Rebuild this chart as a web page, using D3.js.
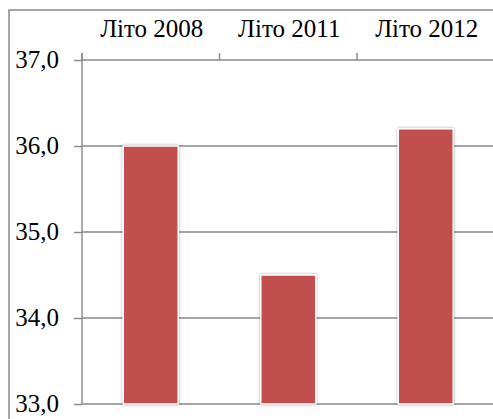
<!DOCTYPE html>
<html>
<head>
<meta charset="utf-8">
<script src="https://cdn.jsdelivr.net/npm/d3@7"></script>
<style>
  html, body { margin: 0; padding: 0; background: #fff; }
  svg { display: block; }
</style>
</head>
<body>
<svg id="chart" width="493" height="419"></svg>
<script>
// Average values per summer season
const categories = ["Літо 2008", "Літо 2011", "Літо 2012"];
const values = [36.0, 34.5, 36.2];
const yTicks = [33, 34, 35, 36, 37];
const yTickLabels = ["33,0", "34,0", "35,0", "36,0", "37,0"];

const svg = d3.select("#chart");

const plot = { left: 82, right: 494.5, top: 60, bottom: 404 };
const gridColor = "#888888";
const serif = "'Liberation Serif'";

// Soft shadow around bars
const defs = svg.append("defs");
const f = defs.append("filter").attr("id", "barShadow")
  .attr("x", "-20%").attr("y", "-10%").attr("width", "140%").attr("height", "120%");
f.append("feDropShadow").attr("dx", 0).attr("dy", 0).attr("stdDeviation", 1.6)
  .attr("flood-color", "#000").attr("flood-opacity", 0.35);

// Outer frame
svg.append("rect")
  .attr("x", 9).attr("y", 10).attr("width", 600).attr("height", 600)
  .attr("fill", "none").attr("stroke", gridColor).attr("stroke-width", 1.5);

const x = d3.scaleBand()
  .domain(categories)
  .range([plot.left, plot.right])
  .paddingInner(0.6).paddingOuter(0.3);

const xCat = d3.scaleBand()
  .domain(categories)
  .range([plot.left, plot.right])
  .padding(0);

const y = d3.scaleLinear().domain([33, 37]).range([plot.bottom, plot.top]);

// Horizontal gridlines
svg.append("g").selectAll("line").data(yTicks).join("line")
  .attr("x1", plot.left).attr("x2", plot.right)
  .attr("y1", d => y(d)).attr("y2", d => y(d))
  .attr("stroke", gridColor).attr("stroke-width", 1.4);

// Y axis (left)
const yAxis = d3.axisLeft(y)
  .tickValues(yTicks)
  .tickFormat((d, i) => yTickLabels[i])
  .tickSize(8).tickPadding(15);
const gy = svg.append("g").attr("transform", `translate(${plot.left},0)`).call(yAxis);
gy.attr("font-family", null).attr("font-size", null);
gy.select(".domain").remove();
gy.selectAll(".tick line").attr("stroke", gridColor).attr("stroke-width", 1.4);
gy.selectAll(".tick text")
  .attr("font-family", serif).attr("font-size", 25)
  .attr("dy", null).attr("y", 7.5).attr("fill", "#000");
svg.append("line")
  .attr("x1", plot.left).attr("x2", plot.left)
  .attr("y1", plot.top - 7).attr("y2", plot.bottom)
  .attr("stroke", gridColor).attr("stroke-width", 1.4);

// Category axis along the top, ticks between categories
const boundaries = categories.map(c => xCat(c)).concat([plot.right]);
svg.append("g").selectAll("line").data(boundaries).join("line")
  .attr("x1", d => d).attr("x2", d => d)
  .attr("y1", plot.top - 7).attr("y2", plot.top)
  .attr("stroke", gridColor).attr("stroke-width", 1.4);
svg.append("g")
  .selectAll("text").data(categories).join("text")
  .attr("x", d => xCat(d) + xCat.bandwidth() / 2 + 1)
  .attr("y", 37)
  .attr("text-anchor", "middle")
  .attr("font-family", serif)
  .attr("font-size", 25)
  .attr("fill", "#000")
  .text(d => d);

// Bars
svg.append("g").selectAll("rect").data(values).join("rect")
  .attr("x", (d, i) => x(categories[i]))
  .attr("width", x.bandwidth())
  .attr("y", d => y(d))
  .attr("height", d => y(33) - y(d))
  .attr("fill", "#C0504D")
  .attr("stroke", "#ffffff").attr("stroke-width", 1.5)
  .attr("filter", "url(#barShadow)");
</script>
</body>
</html>
